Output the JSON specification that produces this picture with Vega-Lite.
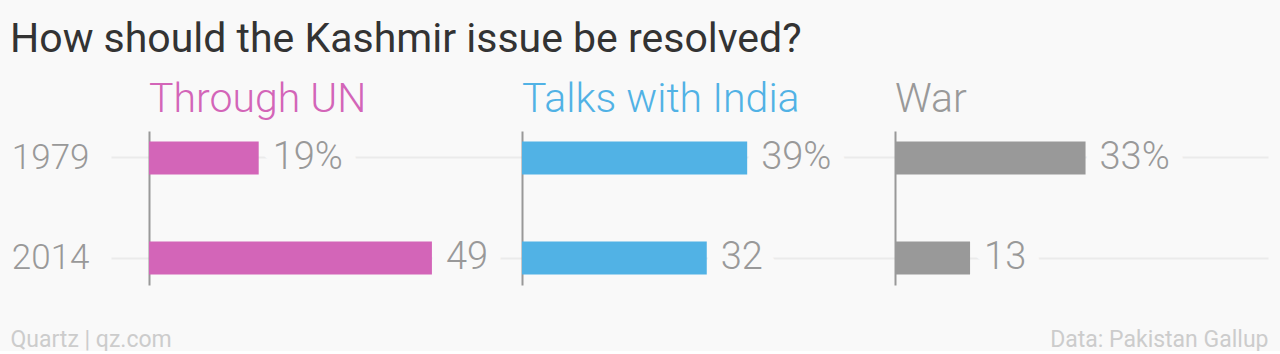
{
  "$schema": "https://vega.github.io/schema/vega-lite/v6.json",
  "background": "#f9f9f9",
  "padding": {"left": 10, "right": 12, "top": 19, "bottom": 0},
  "title": {"text": "How should the Kashmir issue be resolved?", "anchor": "start", "font": "Roboto", "fontSize": 41, "fontWeight": 400, "color": "#333333", "offset": 18},
  "config": {"view": {"stroke": null}, "concat": {"spacing": 0}},
  "datasets": {
    "d": [
      {"option": "Through UN", "year": "1979", "value": 19, "label": "19%"},
      {"option": "Through UN", "year": "2014", "value": 49, "label": "49"},
      {"option": "Talks with India", "year": "1979", "value": 39, "label": "39%"},
      {"option": "Talks with India", "year": "2014", "value": 32, "label": "32"},
      {"option": "War", "year": "1979", "value": 33, "label": "33%"},
      {"option": "War", "year": "2014", "value": 13, "label": "13"}
    ]
  },
  "hconcat": [
    {
      "width": 373, "height": 154,
      "data": {"name": "d"},
      "transform": [{"filter": "datum.option == 'Through UN'"}],
      "title": {"text": "Through UN", "anchor": "start", "frame": "group", "color": "#d365b8", "font": "Roboto", "fontSize": 41, "fontWeight": 300, "offset": 10},
      "encoding": {
        "y": {"field": "year", "type": "nominal", "sort": ["1979", "2014"], "scale": {"paddingInner": 0.67, "paddingOuter": 0.105},
          "axis": {"title": null, "domain": true, "domainColor": "#999999", "domainWidth": 2, "ticks": true, "tickSize": 38, "tickColor": "#ebebeb", "tickWidth": 2, "tickBand": "center", "labelPadding": 22, "labelFont": "Roboto", "labelFontSize": 35, "labelFontWeight": 300, "labelColor": "#999999", "labelAlign": "right", "labelBaseline": "middle", "grid": true, "gridColor": "#ebebeb", "gridWidth": 2}},
        "x": {"field": "value", "type": "quantitative", "scale": {"domain": [0, 64.6], "nice": false},
          "axis": {"title": "Quartz | qz.com", "labels": false, "ticks": false, "domain": false, "grid": false, "titleAnchor": "start", "titleAlign": "left", "titleX": -139, "titleY": 61, "titleFont": "Roboto", "titleFontSize": 23, "titleFontWeight": 400, "titleColor": "#cccccc", "titleBaseline": "alphabetic"}}
      },
      "layer": [
        {"mark": {"type": "text", "align": "left", "baseline": "middle", "dx": 14, "font": "Roboto", "fontSize": 38, "fontWeight": 300, "color": "#f9f9f9", "stroke": "#f9f9f9", "strokeWidth": 30, "strokeJoin": "round"},
         "encoding": {"text": {"field": "label"}}},
        {"mark": {"type": "bar", "color": "#d365b8"}},
        {"mark": {"type": "text", "align": "left", "baseline": "middle", "dx": 14, "font": "Roboto", "fontSize": 38, "fontWeight": 300, "color": "#999999"},
         "encoding": {"text": {"field": "label"}}}
      ]
    },
    {
      "width": 373, "height": 154,
      "data": {"name": "d"},
      "transform": [{"filter": "datum.option == 'Talks with India'"}],
      "title": {"text": "Talks with India", "anchor": "start", "frame": "group", "color": "#51b2e5", "font": "Roboto", "fontSize": 41, "fontWeight": 300, "offset": 10},
      "encoding": {
        "y": {"field": "year", "type": "nominal", "sort": ["1979", "2014"], "scale": {"paddingInner": 0.67, "paddingOuter": 0.105},
          "axis": {"title": null, "domain": true, "domainColor": "#999999", "domainWidth": 2, "ticks": false, "labels": false, "tickBand": "center", "grid": true, "gridColor": "#ebebeb", "gridWidth": 2, "minExtent": 0, "maxExtent": 0}},
        "x": {"field": "value", "type": "quantitative", "scale": {"domain": [0, 64.6], "nice": false}, "axis": null}
      },
      "layer": [
        {"mark": {"type": "text", "align": "left", "baseline": "middle", "dx": 14, "font": "Roboto", "fontSize": 38, "fontWeight": 300, "color": "#f9f9f9", "stroke": "#f9f9f9", "strokeWidth": 30, "strokeJoin": "round"},
         "encoding": {"text": {"field": "label"}}},
        {"mark": {"type": "bar", "color": "#51b2e5"}},
        {"mark": {"type": "text", "align": "left", "baseline": "middle", "dx": 14, "font": "Roboto", "fontSize": 38, "fontWeight": 300, "color": "#999999"},
         "encoding": {"text": {"field": "label"}}}
      ]
    },
    {
      "width": 373, "height": 154,
      "data": {"name": "d"},
      "transform": [{"filter": "datum.option == 'War'"}],
      "title": {"text": "War", "anchor": "start", "frame": "group", "color": "#999999", "font": "Roboto", "fontSize": 41, "fontWeight": 300, "offset": 10},
      "encoding": {
        "y": {"field": "year", "type": "nominal", "sort": ["1979", "2014"], "scale": {"paddingInner": 0.67, "paddingOuter": 0.105},
          "axis": {"title": null, "domain": true, "domainColor": "#999999", "domainWidth": 2, "ticks": false, "labels": false, "tickBand": "center", "grid": true, "gridColor": "#ebebeb", "gridWidth": 2, "minExtent": 0, "maxExtent": 0}},
        "x": {"field": "value", "type": "quantitative", "scale": {"domain": [0, 64.6], "nice": false},
          "axis": {"title": "Data: Pakistan Gallup", "labels": false, "ticks": false, "domain": false, "grid": false, "titleAnchor": "end", "titleAlign": "right", "titleX": 373, "titleY": 61, "titleFont": "Roboto", "titleFontSize": 23, "titleFontWeight": 400, "titleColor": "#cccccc", "titleBaseline": "alphabetic"}}
      },
      "layer": [
        {"mark": {"type": "text", "align": "left", "baseline": "middle", "dx": 14, "font": "Roboto", "fontSize": 38, "fontWeight": 300, "color": "#f9f9f9", "stroke": "#f9f9f9", "strokeWidth": 30, "strokeJoin": "round"},
         "encoding": {"text": {"field": "label"}}},
        {"mark": {"type": "bar", "color": "#999999"}},
        {"mark": {"type": "text", "align": "left", "baseline": "middle", "dx": 14, "font": "Roboto", "fontSize": 38, "fontWeight": 300, "color": "#999999"},
         "encoding": {"text": {"field": "label"}}}
      ]
    }
  ]
}
